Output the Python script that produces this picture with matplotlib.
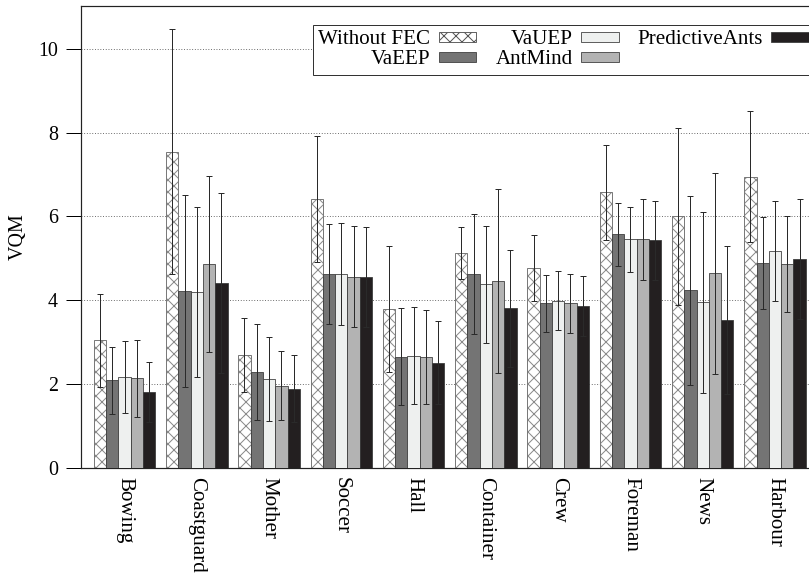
import numpy as np
import matplotlib
matplotlib.use("Agg")
from matplotlib import pyplot as plt
from matplotlib.patches import Patch

plt.rcParams['font.family'] = ['Liberation Serif', 'DejaVu Serif']
plt.rcParams['hatch.linewidth'] = 1.0

videos = ["Bowing", "Coastguard", "Mother", "Soccer", "Hall",
          "Container", "Crew", "Foreman", "News", "Harbour"]

without_fec = [3.04, 7.54, 2.69, 6.41, 3.79, 5.12, 4.76, 6.57, 6.00, 6.95]
without_fec_err = [1.11, 2.92, 0.88, 1.50, 1.51, 0.62, 0.79, 1.13, 2.11, 1.57]
vaeep = [2.09, 4.21, 2.28, 4.62, 2.65, 4.62, 3.92, 5.57, 4.23, 4.88]
vaeep_err = [0.80, 2.29, 1.15, 1.19, 1.15, 1.43, 0.67, 0.75, 2.25, 1.10]
vauep = [2.16, 4.19, 2.11, 4.62, 2.67, 4.38, 3.99, 5.45, 3.95, 5.17]
vauep_err = [0.86, 2.03, 1.00, 1.21, 1.16, 1.40, 0.70, 0.77, 2.16, 1.19]
antmind = [2.13, 4.86, 1.96, 4.56, 2.64, 4.46, 3.92, 5.45, 4.64, 4.86]
antmind_err = [0.92, 2.10, 0.83, 1.21, 1.13, 2.20, 0.70, 0.97, 2.40, 1.14]
pred_ants = [1.81, 4.41, 1.89, 4.55, 2.51, 3.80, 3.86, 5.43, 3.52, 4.98]
pred_ants_err = [0.71, 2.14, 0.81, 1.19, 1.00, 1.39, 0.72, 0.94, 1.76, 1.43]

series = [
    ("Without FEC", without_fec, without_fec_err, "white"),
    ("VaEEP", vaeep, vaeep_err, "#747474"),
    ("VaUEP", vauep, vauep_err, "#eef0ef"),
    ("AntMind", antmind, antmind_err, "#b3b3b3"),
    ("PredictiveAnts", pred_ants, pred_ants_err, "#231f20"),
]

# dpi 72 so that 1 pt == 1 px
fig = plt.figure(figsize=(809 / 72, 575 / 72), dpi=72)
# right edge of the axes runs past the figure, as in the original
ax = fig.add_axes([81 / 809, 107.3 / 575, 735 / 809, 461.7 / 575])

x = np.arange(len(videos))
w = 0.17
err_kw = dict(ecolor="#2a2a2a", elinewidth=1.0, capsize=3, capthick=1.0)

handles = []
for i, (name, vals, errs, color) in enumerate(series):
    pos = x + (i - 2) * w
    if i == 0:
        ax.bar(pos, vals, w, color="white", edgecolor="#8a8a8a", hatch="xx",
               linewidth=0, zorder=2)
        ax.bar(pos, vals, w, fill=False, edgecolor="#7a7a7a", linewidth=1.0,
               yerr=errs, error_kw=err_kw, zorder=3)
        handles.append(Patch(facecolor="white", edgecolor="#555555",
                             hatch="xx", linewidth=0.9, label=name))
    else:
        ax.bar(pos, vals, w, color=color, edgecolor="#3a3a3a", linewidth=0.8,
               yerr=errs, error_kw=err_kw, zorder=3)
        handles.append(Patch(facecolor=color, edgecolor="#3a3a3a",
                             linewidth=0.8, label=name))

ax.set_xlim(-0.602, (816 - 124.5) / 72.28)
ax.set_ylim(0, 11.02)
ax.set_yticks([0, 2, 4, 6, 8, 10])
ax.set_xticks(x)
ax.set_xticklabels(videos, rotation=270, va="top", ha="center")
ax.tick_params(axis="x", length=0, pad=9, labelsize=21)
ax.tick_params(axis="y", direction="out", length=15, width=1.0, pad=8,
               labelsize=20)
ax.set_ylabel("VQM", fontsize=20, labelpad=10)

ax.yaxis.grid(True, linestyle=(0, (1, 2)), color="#555555", linewidth=0.9)
ax.set_axisbelow(True)
for s in ax.spines.values():
    s.set_linewidth(1.2)
    s.set_color("#222222")

leg = ax.legend(handles=handles, ncol=3, loc="upper left",
                bbox_to_anchor=(313 / 809, 1 - 25 / 575),
                bbox_transform=fig.transFigure, borderaxespad=0,
                fontsize=21, markerfirst=False, handlelength=1.8,
                handleheight=0.35, handletextpad=0.4, columnspacing=0.9,
                labelspacing=0.05, borderpad=0.25, fancybox=False,
                framealpha=1, edgecolor="#333333")
leg.get_frame().set_linewidth(1.0)

fig.savefig("out.png", dpi=72)
